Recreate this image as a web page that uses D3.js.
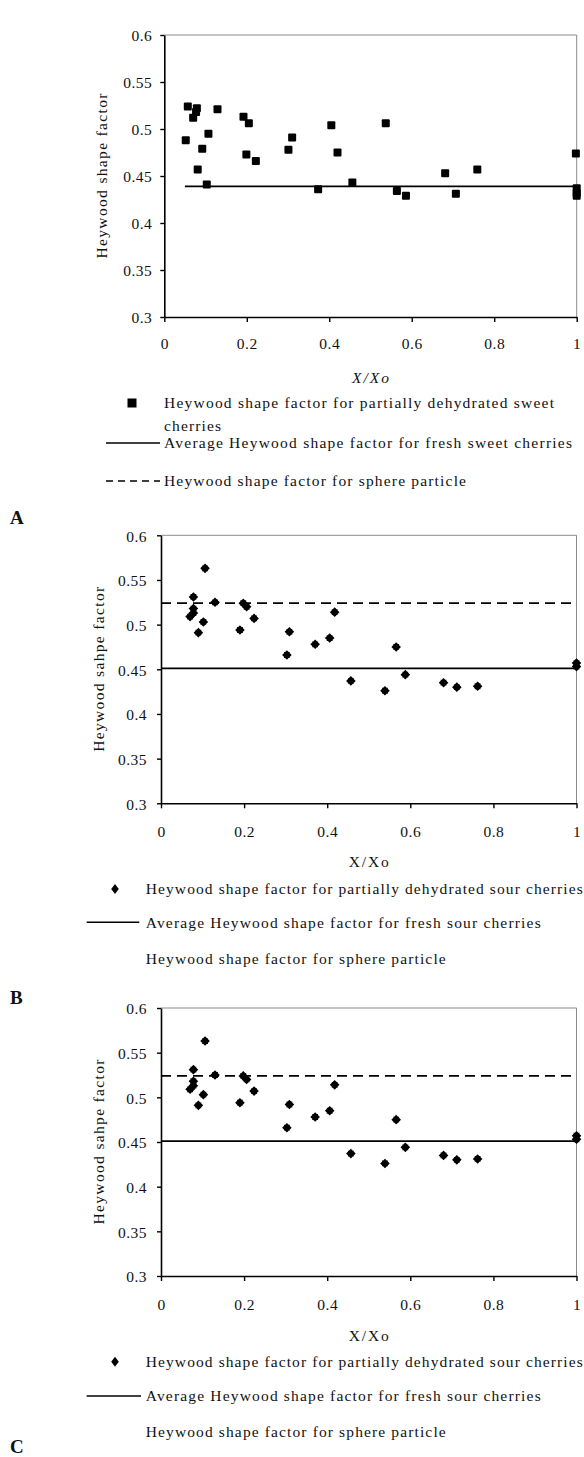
<!DOCTYPE html>
<html><head><meta charset="utf-8">
<script src="https://cdn.jsdelivr.net/npm/d3@7"></script>
<style>
html,body{margin:0;padding:0;background:#fff;}
svg{display:block;}
text{font-family:"Liberation Serif","Times New Roman",serif;fill:#111;}
</style></head>
<body><svg id="c" width="584" height="1457"></svg>
<script>
// ---------- data ----------
const yTicks = [0.3, 0.35, 0.4, 0.45, 0.5, 0.55, 0.6];
const yTickLabels = ["0.3", "0.35", "0.4", "0.45", "0.5", "0.55", "0.6"];
const xTicks = [0, 0.2, 0.4, 0.6, 0.8, 1];
const xTickLabels = ["0", "0.2", "0.4", "0.6", "0.8", "1"];

// Panel A: sweet cherries
const sweetX = [0.057,0.079,0.077,0.070,0.129,0.192,0.205,0.052,0.107,0.092,0.081,0.199,0.222,0.310,0.301,0.405,0.420,0.537,0.681,0.759,0.998,0.103,0.373,0.456,0.564,0.586,0.707,1.0,1.0,1.0];
const sweetY = [0.524,0.522,0.518,0.512,0.521,0.513,0.506,0.488,0.495,0.479,0.457,0.473,0.466,0.491,0.478,0.504,0.475,0.506,0.453,0.457,0.474,0.441,0.436,0.443,0.434,0.429,0.431,0.437,0.432,0.429];
const sweetAvgX = [0.05, 1];
const sweetAvgY = 0.439;

// Panels B and C: sour cherries
const sourX = [0.106,0.078,0.078,0.078,0.070,0.130,0.102,0.090,0.198,0.206,0.224,0.190,0.309,0.303,0.371,0.406,0.418,0.566,0.457,0.539,0.588,0.680,0.712,0.762,1.0,1.0];
const sourY = [0.563,0.531,0.518,0.513,0.509,0.525,0.503,0.491,0.524,0.520,0.507,0.494,0.492,0.466,0.478,0.485,0.514,0.475,0.437,0.426,0.444,0.435,0.430,0.431,0.457,0.453];
const sourAvgX = [0, 1];
const sourAvgY = 0.451;
const sphereX = [0, 1];
const sphereY = 0.524;

const legendA = ["Heywood shape factor for partially dehydrated sweet", "cherries",
  "Average Heywood shape factor for fresh sweet cherries", "Heywood shape factor for sphere particle"];
const legendB = ["Heywood shape factor for partially dehydrated sour cherries",
  "Average Heywood shape factor for fresh sour cherries", "Heywood shape factor for sphere particle"];

// ---------- drawing ----------
const svg = d3.select("#c");

function diamondPath(cx, cy) {
  const r = 4.8, s = 2.9;
  return `M${cx},${cy-r}L${cx+r},${cy}L${cx},${cy+r}L${cx-r},${cy}Z` +
         `M${cx-s},${cy-s}h${2*s}v${2*s}h${-2*s}Z`;
}

function panel(cfg) {
  const g = svg.append("g");
  const x = d3.scaleLinear().domain([0, 1]).range([cfg.x0, cfg.x1]);
  const y = d3.scaleLinear().domain([0.3, 0.6]).range([cfg.y1, cfg.y0]);

  // grey top/right frame
  g.append("path").attr("d", `M${cfg.x0},${cfg.y0}H${cfg.x1}V${cfg.y1}`)
    .attr("fill", "none").attr("stroke", "#8a8a8a").attr("stroke-width", 1);

  // y axis
  const ya = g.append("g").attr("transform", `translate(${cfg.x0},0)`)
    .call(d3.axisLeft(y).tickValues(yTicks).tickSizeInner(4).tickSizeOuter(0)
      .tickPadding(cfg.yPad).tickFormat((d, i) => yTickLabels[i]));
  ya.select(".domain").attr("stroke", "#000").attr("stroke-width", 1.6);
  ya.selectAll(".tick line").attr("stroke", "#000").attr("stroke-width", 1.4);
  ya.selectAll("text").attr("font-size", 15.5).attr("letter-spacing", 0.5)
    .attr("font-family", "Liberation Serif").attr("fill", "#111").attr("dy", "0.38em");

  // x axis
  const xa = g.append("g").attr("transform", `translate(0,${cfg.y1})`)
    .call(d3.axisBottom(x).tickValues(xTicks).tickSizeInner(5).tickSizeOuter(0)
      .tickFormat((d, i) => xTickLabels[i]));
  xa.select(".domain").attr("stroke", "#000").attr("stroke-width", 1.6);
  xa.selectAll(".tick line").attr("stroke", "#000").attr("stroke-width", 1.4);
  xa.selectAll("text").attr("font-size", 15.5).attr("letter-spacing", 0.5)
    .attr("font-family", "Liberation Serif").attr("fill", "#111")
    .attr("y", cfg.xLabOff).attr("dy", "0.35em");

  // reference lines
  cfg.lines.forEach(l => {
    g.append("line").attr("x1", x(l.xs[0])).attr("x2", x(l.xs[1]))
      .attr("y1", y(l.v)).attr("y2", y(l.v))
      .attr("stroke", "#000").attr("stroke-width", 1.8)
      .attr("stroke-dasharray", l.dash || null);
  });

  // points
  const pts = cfg.xs.map((d, i) => [d, cfg.ys[i]]);
  if (cfg.marker === "square") {
    g.selectAll("rect.pt").data(pts).join("rect").attr("class", "pt")
      .attr("x", d => x(d[0]) - 4).attr("y", d => y(d[1]) - 4)
      .attr("width", 8).attr("height", 8).attr("rx", 1).attr("fill", "#000");
  } else {
    g.selectAll("path.pt").data(pts).join("path").attr("class", "pt")
      .attr("d", d => diamondPath(x(d[0]), y(d[1]))).attr("fill", "#000");
  }

  // axis titles
  g.append("text").attr("x", (cfg.x0 + cfg.x1) / 2).attr("y", cfg.y1 + cfg.xTitleOff)
    .attr("text-anchor", "middle").attr("dy", "0.35em").attr("font-size", 15.5)
    .attr("font-style", cfg.italicX ? "italic" : "normal")
    .attr("textLength", cfg.italicX ? 37 : 40).attr("lengthAdjust", "spacing").text("X/Xo");
  const ty = (cfg.y0 + cfg.y1) / 2;
  g.append("text").attr("transform", `translate(${cfg.yTitleX},${ty}) rotate(-90)`)
    .attr("text-anchor", "middle").attr("dy", "0.35em").attr("font-size", 15.5)
    .attr("textLength", 165).attr("lengthAdjust", "spacing").text(cfg.yTitle);

  // legend
  cfg.legend.forEach(it => {
    if (it.sym === "square") {
      g.append("rect").attr("x", it.sx - 4.5).attr("y", it.y - 4.5).attr("width", 9).attr("height", 9).attr("fill", "#000");
    } else if (it.sym === "diamond") {
      g.append("path").attr("d", `M${it.sx},${it.y-5}L${it.sx+3.8},${it.y}L${it.sx},${it.y+5}L${it.sx-3.8},${it.y}Z`).attr("fill", "#000");
    } else if (it.sym === "line" || it.sym === "dash") {
      g.append("line").attr("x1", it.lx[0]).attr("x2", it.lx[1]).attr("y1", it.y).attr("y2", it.y)
        .attr("stroke", "#000").attr("stroke-width", 1.4)
        .attr("stroke-dasharray", it.sym === "dash" ? "7,5" : null);
    }
    g.append("text").attr("x", it.tx).attr("y", it.y).attr("dy", "0.35em")
      .attr("font-size", 15.5).attr("textLength", it.w).attr("lengthAdjust", "spacing").text(it.t);
  });

  // panel letter
  g.append("text").attr("x", 10).attr("y", cfg.letterY).attr("dy", "0.35em")
    .attr("font-size", 19).attr("font-weight", "bold").attr("fill", "#000").text(cfg.letter);
}

panel({
  x0: 164.3, x1: 576.7, y0: 35, y1: 317, yPad: 8, xLabOff: 27, xTitleOff: 61, yTitleX: 101.7,
  italicX: true, yTitle: "Heywood shape factor", marker: "square",
  xs: sweetX, ys: sweetY,
  lines: [{xs: sweetAvgX, v: sweetAvgY}],
  legend: [
    {sym: "square", sx: 132, y: 403, tx: 164, w: 390, t: legendA[0]},
    {sym: null, y: 426, tx: 164, w: 57, t: legendA[1]},
    {sym: "line", lx: [106, 160], y: 443, tx: 164, w: 408, t: legendA[2]},
    {sym: "dash", lx: [106, 160], y: 481, tx: 164, w: 302, t: legendA[3]}
  ],
  letter: "A", letterY: 517
});

panel({
  x0: 161, x1: 576.5, y0: 535.3, y1: 803.3, yPad: 10, xLabOff: 28.5, xTitleOff: 58.5, yTitleX: 99,
  italicX: false, yTitle: "Heywood sahpe factor", marker: "diamond",
  xs: sourX, ys: sourY,
  lines: [{xs: sourAvgX, v: sourAvgY}, {xs: sphereX, v: sphereY, dash: "10,6"}],
  legend: [
    {sym: "diamond", sx: 115, y: 889, tx: 145.7, w: 437, t: legendB[0]},
    {sym: "line", lx: [86.7, 139.3], y: 922.3, tx: 145.7, w: 395, t: legendB[1]},
    {sym: null, y: 958.3, tx: 145.7, w: 300, t: legendB[2]}
  ],
  letter: "B", letterY: 997
});

panel({
  x0: 161, x1: 576.5, y0: 1008, y1: 1276, yPad: 10, xLabOff: 29, xTitleOff: 60, yTitleX: 99,
  italicX: false, yTitle: "Heywood sahpe factor", marker: "diamond",
  xs: sourX, ys: sourY,
  lines: [{xs: sourAvgX, v: sourAvgY}, {xs: sphereX, v: sphereY, dash: "10,6"}],
  legend: [
    {sym: "diamond", sx: 115, y: 1361.7, tx: 145.7, w: 437, t: legendB[0]},
    {sym: "line", lx: [86.7, 141], y: 1396, tx: 145.7, w: 395, t: legendB[1]},
    {sym: null, y: 1431.7, tx: 145.7, w: 300, t: legendB[2]}
  ],
  letter: "C", letterY: 1446
});
</script></body></html>
